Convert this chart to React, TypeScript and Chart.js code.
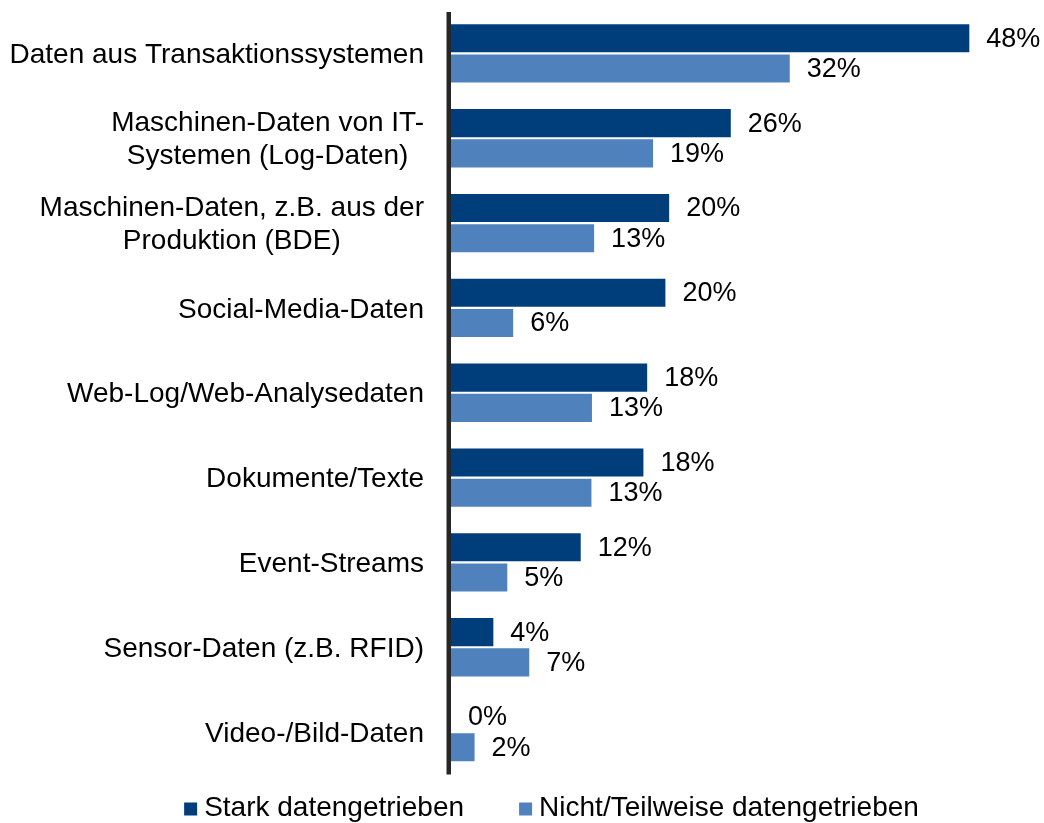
import React, { useEffect, useRef } from "react";
import { Chart, registerables } from "chart.js";

Chart.register(...registerables);

const categories: string[][] = [
  ["Daten aus Transaktionssystemen"],
  ["Maschinen-Daten von IT-", "Systemen (Log-Daten)"],
  ["Maschinen-Daten, z.B. aus der", "Produktion (BDE)"],
  ["Social-Media-Daten"],
  ["Web-Log/Web-Analysedaten"],
  ["Dokumente/Texte"],
  ["Event-Streams"],
  ["Sensor-Daten (z.B. RFID)"],
  ["Video-/Bild-Daten"],
];

const seriesNames = ["Stark datengetrieben", "Nicht/Teilweise datengetrieben"];
const strongValues = [48.35, 26.1, 20.35, 20.0, 18.3, 17.95, 12.1, 3.95, 0];
const weakValues = [31.6, 18.85, 13.35, 5.8, 13.15, 13.1, 5.25, 7.3, 2.2];
const seriesColors = ["#003d7b", "#4f81bd"];

const FONT = "'Liberation Sans', Arial, sans-serif";

const overlayPlugin = {
  id: "overlay",
  afterDatasetsDraw(chart: any) {
    const ctx = chart.ctx as CanvasRenderingContext2D;
    const area = chart.chartArea;
    const yScale = chart.scales.y;
    ctx.save();
    // axis line
    ctx.fillStyle = "#262626";
    ctx.fillRect(area.left - 4.5, area.top + 1, 4.5, area.bottom - area.top - 1);

    // data labels
    ctx.fillStyle = "#000";
    ctx.font = `27px ${FONT}`;
    ctx.textAlign = "left";
    ctx.textBaseline = "middle";
    chart.data.datasets.forEach((ds: any, di: number) => {
      const meta = chart.getDatasetMeta(di);
      meta.data.forEach((bar: any, i: number) => {
        const v = ds.data[i] as number;
        ctx.fillText(`${Math.round(v)}%`, bar.x + 17, bar.y + 1);
      });
    });

    // category labels
    ctx.font = `28px ${FONT}`;
    ctx.textAlign = "center";
    const rightEdge = area.left - 27;
    const lineH = 33;
    categories.forEach((lines, i) => {
      const cy = yScale.getPixelForValue(i);
      const maxW = Math.max(...lines.map((l) => ctx.measureText(l).width));
      const cx = rightEdge - maxW / 2;
      const startY = cy - ((lines.length - 1) * lineH) / 2;
      lines.forEach((l, li) => {
        ctx.fillText(l, cx, startY + li * lineH + 2);
      });
    });

    // legend
    ctx.font = `28px ${FONT}`;
    ctx.textAlign = "left";
    const box = 13;
    const textGap = 7;
    const itemGap = 55;
    const widths = seriesNames.map((n) => ctx.measureText(n).width);
    const total = widths.reduce((a, w) => a + box + textGap + w, 0) + itemGap * (seriesNames.length - 1);
    let x = 551.5 - total / 2;
    const ly = 808;
    seriesNames.forEach((n, i) => {
      ctx.fillStyle = seriesColors[i];
      ctx.fillRect(x, ly - box / 2 + 1, box, box);
      ctx.fillStyle = "#000";
      ctx.fillText(n, x + box + textGap, ly);
      x += box + textGap + widths[i] + itemGap;
    });
    ctx.restore();
  },
};

export default function App() {
  const canvasRef = useRef<HTMLCanvasElement | null>(null);

  useEffect(() => {
    const canvas = canvasRef.current;
    if (!canvas) return;
    const chart = new Chart(canvas, {
      type: "bar",
      data: {
        labels: categories.map((c) => c.join(" ")),
        datasets: [
          {
            label: seriesNames[0],
            data: strongValues,
            backgroundColor: seriesColors[0],
            categoryPercentage: 0.712,
            barPercentage: 0.93,
          },
          {
            label: seriesNames[1],
            data: weakValues,
            backgroundColor: seriesColors[1],
            categoryPercentage: 0.712,
            barPercentage: 0.93,
          },
        ],
      },
      options: {
        indexAxis: "y",
        responsive: false,
        animation: false,
        devicePixelRatio: 1,
        layout: { padding: { left: 451, right: 57, top: 11, bottom: 48.5 } },
        plugins: {
          legend: { display: false },
          tooltip: { enabled: false },
        },
        scales: {
          x: { display: false, min: 0, max: 50 },
          y: { display: false },
        },
      },
      plugins: [overlayPlugin],
    });
    return () => chart.destroy();
  }, []);

  return (
    <div style={{ position: "absolute", left: 0, top: 0, width: 1044, height: 823, background: "#fff" }}>
      <canvas ref={canvasRef} width={1044} height={823} style={{ display: "block" }} />
    </div>
  );
}
